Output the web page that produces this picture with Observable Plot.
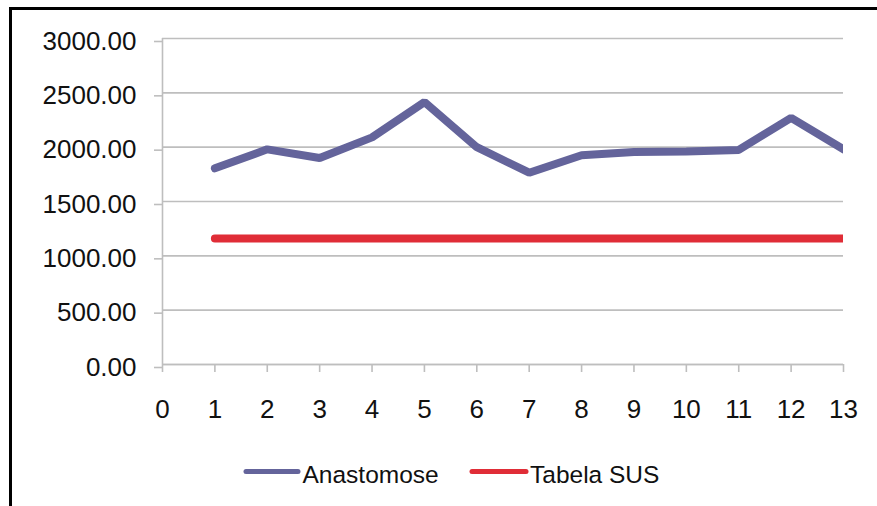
<!DOCTYPE html>
<html>
<head>
<meta charset="utf-8">
<script src="https://cdn.jsdelivr.net/npm/d3@7"></script>
<script src="https://cdn.jsdelivr.net/npm/@observablehq/plot@0.6"></script>
<style>
  html, body { margin: 0; padding: 0; background: #fff; }
  #wrap { position: relative; width: 877px; height: 506px; overflow: hidden; font-family: "Liberation Sans", Arial, sans-serif; }
  #frame { position: absolute; left: 9px; top: 7px; width: 900px; height: 600px; border-top: 3px solid #000; border-left: 3px solid #000; box-sizing: border-box; pointer-events: none; }
  #chart { position: absolute; left: 0; top: 0; }
  #legend { position: absolute; left: 0; top: 0; }
</style>
</head>
<body>
<div id="wrap">
  <div id="chart"></div>
  <svg id="legend" width="877" height="506"></svg>
  <div id="frame"></div>
</div>
<script>
const months = [1, 2, 3, 4, 5, 6, 7, 8, 9, 10, 11, 12, 13];
const anastomose = [1805, 1980, 1900, 2090, 2415, 2000, 1765, 1925, 1955, 1960, 1975, 2270, 1980];
const tabelaSUS = [1160, 1160, 1160, 1160, 1160, 1160, 1160, 1160, 1160, 1160, 1160, 1160, 1160];
const seriesNames = ["Anastomose", "Tabela SUS"];
const seriesColors = ["#64649b", "#e02d37"];
const yTicks = [0, 500, 1000, 1500, 2000, 2500, 3000];
const xTicks = [0, 1, 2, 3, 4, 5, 6, 7, 8, 9, 10, 11, 12, 13];

const data = [];
months.forEach((m, i) => {
  data.push({x: m, y: anastomose[i], s: seriesNames[0]});
  data.push({x: m, y: tabelaSUS[i], s: seriesNames[1]});
});

const grid = "#bebebe";
const font = "Liberation Sans, Arial, sans-serif";

const chart = Plot.plot({
  width: 877,
  height: 506,
  marginLeft: 162,
  marginRight: 34,
  marginTop: 38,
  marginBottom: 142,
  style: {fontFamily: font, fontSize: "26px", color: "#111", background: "transparent", overflow: "visible"},
  x: {domain: [0, 13]},
  y: {domain: [0, 3000]},
  color: {domain: seriesNames, range: seriesColors},
  marks: [
    Plot.gridY(yTicks, {stroke: grid, strokeOpacity: 1, strokeWidth: 1.6}),
    Plot.axisY({ticks: yTicks, tickFormat: d3.format(".2f"), tickSize: 8, tickPadding: 18, dy: 3,
      stroke: grid, strokeOpacity: 1, strokeWidth: 1.6, fontSize: 26, fill: "#111", label: null}),
    Plot.axisX({ticks: xTicks, tickFormat: d3.format("d"), tickSize: 8, tickPadding: 27,
      stroke: grid, strokeOpacity: 1, strokeWidth: 1.6, fontSize: 26, fill: "#111", label: null}),
    Plot.ruleX([0], {stroke: grid, strokeWidth: 1.6}),
    Plot.ruleY([0], {stroke: grid, strokeWidth: 1.6}),
    Plot.line(data, {x: "x", y: "y", z: "s", stroke: "s", strokeWidth: 8,
      strokeLinecap: "round", strokeLinejoin: "miter", clip: true})
  ]
});
document.getElementById("chart").appendChild(chart);

// Legend
const lg = d3.select("#legend");
const legendItems = [
  {name: seriesNames[0], color: seriesColors[0], x1: 246, x2: 298, tx: 302.5},
  {name: seriesNames[1], color: seriesColors[1], x1: 472, x2: 526, tx: 530}
];
legendItems.forEach(d => {
  lg.append("line").attr("x1", d.x1).attr("x2", d.x2).attr("y1", 471.5).attr("y2", 471.5)
    .attr("stroke", d.color).attr("stroke-width", 5).attr("stroke-linecap", "round");
  lg.append("text").attr("x", d.tx).attr("y", 483).attr("font-family", font)
    .attr("font-size", 24.5).attr("fill", "#111").text(d.name);
});
</script>
</body>
</html>
